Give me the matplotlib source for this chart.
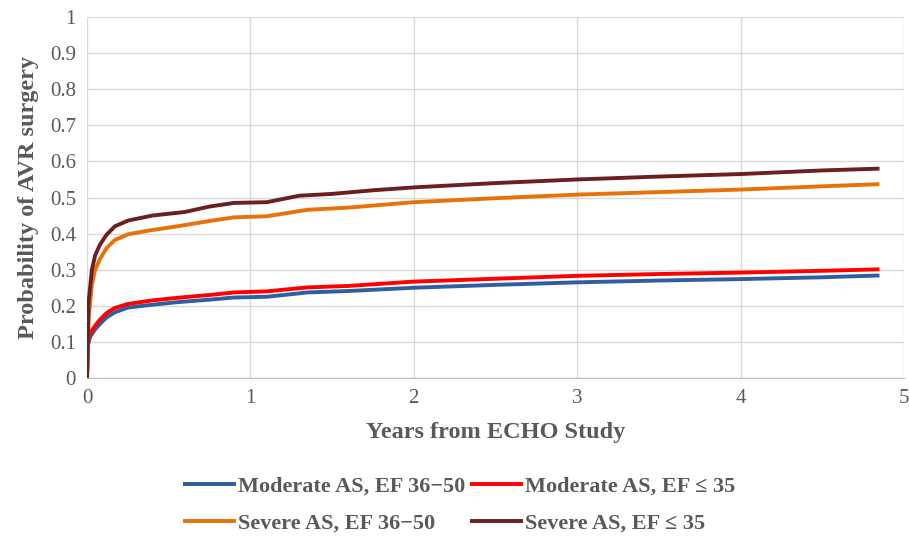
import matplotlib
matplotlib.use("Agg")
import matplotlib.pyplot as plt

labels = ["Moderate AS, EF 36\u221250", "Moderate AS, EF \u2264 35",
          "Severe AS, EF 36\u221250", "Severe AS, EF \u2264 35"]
colors = ["#2F5F9E", "#FF0000", "#E8710A", "#6B1F1F"]

mod_50_x = [0, 0.005, 0.02, 0.05, 0.08, 0.12, 0.17, 0.25, 0.4, 0.55, 0.75, 0.9, 1.1, 1.35, 1.6, 2.0, 2.5, 3.0, 3.5, 4.0, 4.5, 4.85]
mod_50_y = [0, 0.09, 0.115, 0.135, 0.15, 0.168, 0.182, 0.195, 0.203, 0.21, 0.217, 0.223, 0.225, 0.237, 0.241, 0.25, 0.258, 0.265, 0.27, 0.274, 0.279, 0.284]

mod_35_x = [0, 0.005, 0.02, 0.05, 0.08, 0.12, 0.17, 0.25, 0.4, 0.55, 0.75, 0.9, 1.1, 1.35, 1.6, 2.0, 2.5, 3.0, 3.5, 4.0, 4.5, 4.85]
mod_35_y = [0, 0.10, 0.125, 0.145, 0.162, 0.18, 0.194, 0.205, 0.215, 0.222, 0.23, 0.237, 0.24, 0.251, 0.255, 0.267, 0.275, 0.283, 0.288, 0.292, 0.297, 0.301]

sev_50_x = [0, 0.01, 0.03, 0.05, 0.08, 0.12, 0.17, 0.25, 0.4, 0.55, 0.75, 0.9, 1.1, 1.35, 1.6, 2.0, 2.5, 3.0, 3.5, 4.0, 4.5, 4.85]
sev_50_y = [0, 0.17, 0.26, 0.3, 0.33, 0.36, 0.382, 0.398, 0.41, 0.42, 0.435, 0.445, 0.448, 0.466, 0.472, 0.487, 0.498, 0.508, 0.515, 0.522, 0.531, 0.537]

sev_35_x = [0, 0.01, 0.03, 0.05, 0.08, 0.12, 0.17, 0.25, 0.4, 0.5, 0.6, 0.75, 0.9, 1.1, 1.3, 1.5, 1.75, 2.0, 2.5, 3.0, 3.5, 4.0, 4.5, 4.85]
sev_35_y = [0, 0.21, 0.3, 0.34, 0.37, 0.397, 0.42, 0.436, 0.45, 0.455, 0.46, 0.475, 0.485, 0.487, 0.505, 0.51, 0.52, 0.528, 0.54, 0.55, 0.558, 0.565, 0.575, 0.58]

xticks = [0, 1, 2, 3, 4, 5]
yticks = [0, 0.1, 0.2, 0.3, 0.4, 0.5, 0.6, 0.7, 0.8, 0.9, 1]
yticklabels = ["0", "0.1", "0.2", "0.3", "0.4", "0.5", "0.6", "0.7", "0.8", "0.9", "1"]

plt.rcParams['font.family'] = ['Liberation Serif', 'DejaVu Serif']
gray = "#595959"

fig = plt.figure(figsize=(9.09, 5.4), dpi=100)
ax = fig.add_axes([0.0957, 0.30, 0.8988, 0.6685])

series = [(mod_50_x, mod_50_y), (mod_35_x, mod_35_y), (sev_50_x, sev_50_y), (sev_35_x, sev_35_y)]
handles = []
for (xs, ys), c, lab in zip(series, colors, labels):
    h, = ax.plot(xs, ys, color=c, lw=2.8, label=lab, solid_capstyle='butt', zorder=3)
    handles.append(h)

ax.set_xlim(0, 5)
ax.set_ylim(0, 1)
ax.set_xticks(xticks)
ax.set_yticks(yticks)
ax.set_yticklabels(yticklabels)
ax.grid(True, color="#D9D9D9", lw=1.0, zorder=0)
for s in ["top", "right", "left"]:
    ax.spines[s].set_visible(False)
ax.spines["bottom"].set_color("#BFBFBF")
ax.tick_params(length=0, labelsize=15, labelcolor=gray, pad=8)
ax.set_xlabel("Years from ECHO Study", fontsize=17.5, fontweight='bold', color=gray, labelpad=10)
ax.set_ylabel("Probability of AVR surgery", fontsize=17.5, fontweight='bold', color=gray, labelpad=8)

order = [0, 2, 1, 3]
leg = fig.legend(handles=[handles[i] for i in order], labels=[labels[i] for i in order],
                 loc='center', bbox_to_anchor=(0.505, 0.065), ncol=2,
                 frameon=False, fontsize=16, handlelength=2.4, handletextpad=0.1,
                 columnspacing=0.2, labelspacing=0.75)
for t in leg.get_texts():
    t.set_color(gray)
    t.set_fontweight('bold')

fig.savefig("out.png", dpi=100)
